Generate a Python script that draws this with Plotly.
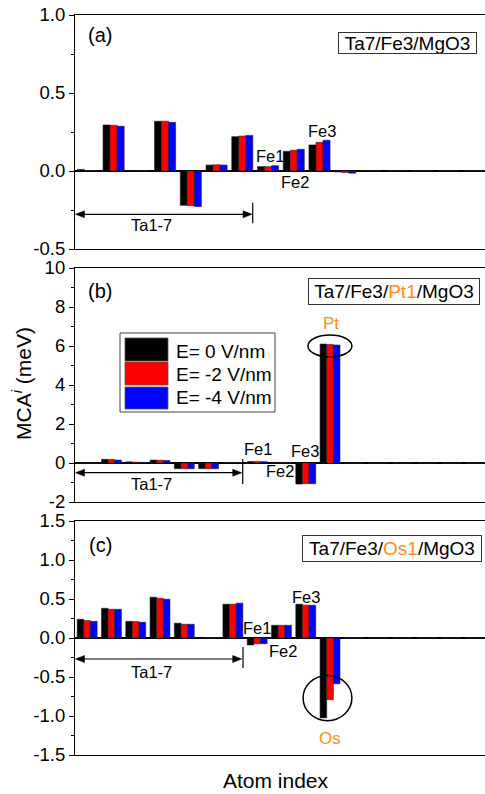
import plotly.graph_objects as go

# ---------------- data ----------------
series_names = ["E= 0 V/nm", "E= -2 V/nm", "E= -4 V/nm"]
series_colors = ["#000000", "#ff0000", "#0000ff"]

# (a) Ta7/Fe3/MgO3 : 16 atoms
atoms_a = list(range(1, 17))
a_e0 = [0.010, 0.295, 0.0, 0.319, -0.220, 0.038, 0.220, 0.028, 0.126, 0.167, -0.006, 0, 0, 0, 0, 0]
a_e2 = [0.002, 0.293, 0.0, 0.319, -0.222, 0.040, 0.224, 0.028, 0.133, 0.184, -0.010, 0, 0, 0, 0, 0]
a_e4 = [0.001, 0.287, 0.0, 0.312, -0.228, 0.038, 0.228, 0.034, 0.139, 0.197, -0.014, 0, 0, 0, 0, 0]

# (b) Ta7/Fe3/Pt1/MgO3 : 17 atoms
atoms_b = list(range(1, 18))
b_e0 = [0.0, 0.19, 0.06, 0.15, -0.29, -0.29, 0.02, 0.08, 0.03, -1.08, 6.10, 0, 0, 0, 0, 0, 0]
b_e2 = [0.0, 0.18, 0.04, 0.14, -0.29, -0.29, 0.02, 0.08, 0.03, -1.06, 6.08, 0, 0, 0, 0, 0, 0]
b_e4 = [0.0, 0.15, 0.03, 0.13, -0.29, -0.29, 0.02, 0.07, 0.03, -1.06, 6.05, 0, 0, 0, 0, 0, 0]

# (c) Ta7/Fe3/Os1/MgO3 : 17 atoms
atoms_c = list(range(1, 18))
c_e0 = [0.240, 0.381, 0.214, 0.523, 0.190, 0.008, 0.433, -0.090, 0.163, 0.433, -1.024, 0.005, 0, 0, 0, 0, 0]
c_e2 = [0.223, 0.368, 0.210, 0.510, 0.176, 0.004, 0.433, -0.073, 0.163, 0.420, -0.790, 0.003, 0, 0, 0, 0, 0]
c_e4 = [0.214, 0.368, 0.202, 0.497, 0.176, 0.003, 0.446, -0.073, 0.163, 0.420, -0.587, 0.002, 0, 0, 0, 0, 0]

yt_a_vals = [-0.5, 0.0, 0.5, 1.0]
yt_a_text = ["-0.5", "0.0", "0.5", "1.0"]
yt_b_vals = [-2, 0, 2, 4, 6, 8, 10]
yt_b_text = ["-2", "0", "2", "4", "6", "8", "10"]
yt_c_vals = [-1.5, -1.0, -0.5, 0.0, 0.5, 1.0, 1.5]
yt_c_text = ["-1.5", "-1.0", "-0.5", "0.0", "0.5", "1.0", "1.5"]

# ---------------- layout helpers ----------------
W, H = 485, 794
L, R, T, B = 75, 0, 15, 39
PW = W - L - R
PH = H - T - B
FONT = "Liberation Sans, Arial, sans-serif"
ORANGE = "#ff8c1a"


def px(xp):
    return (xp - L) / PW


def py(yp):
    return (H - B - yp) / PH


fig = go.Figure()

panels = [
    ("x", "y", atoms_a, [a_e0, a_e2, a_e4]),
    ("x2", "y2", atoms_b, [b_e0, b_e2, b_e4]),
    ("x3", "y3", atoms_c, [c_e0, c_e2, c_e4]),
]
for xa, ya, atoms, vals in panels:
    for name, col, v in zip(series_names, series_colors, vals):
        fig.add_trace(go.Bar(
            x=atoms, y=v, name=name, xaxis=xa, yaxis=ya,
            marker=dict(color=col, line=dict(color="#222222", width=0.6)),
            showlegend=False,
        ))

xcommon = dict(showticklabels=False, ticks="", showline=True, mirror=True,
               linecolor="black", linewidth=1.2, showgrid=False, zeroline=False)
ycommon = dict(ticks="outside", ticklen=5, tickwidth=1.2, tickcolor="black",
               showline=True, mirror=False, linecolor="black", linewidth=1.2,
               showgrid=False, zeroline=True, zerolinecolor="black", zerolinewidth=2,
               tickfont=dict(family=FONT, size=18.5, color="black"))

fig.update_layout(
    width=W, height=H,
    margin=dict(l=L, r=R, t=T, b=B),
    paper_bgcolor="white", plot_bgcolor="white",
    barmode="group", bargap=0.18, bargroupgap=0.0,
    font=dict(family=FONT, color="black"),
    xaxis=dict(domain=[0, 1], range=[0.5, 16.43], anchor="y", **xcommon),
    xaxis2=dict(domain=[0, 1], range=[0.5, 17.38], anchor="y2", **xcommon),
    xaxis3=dict(domain=[0, 1], range=[0.5, 17.38], anchor="y3", **xcommon),
    yaxis=dict(domain=[py(249), py(15)], range=[-0.5, 1.0], anchor="x",
               tickvals=yt_a_vals, ticktext=yt_a_text,
               minor=dict(ticks="outside", ticklen=3, tickwidth=1, tickcolor="black", dtick=0.25, tick0=0),
               **ycommon),
    yaxis2=dict(domain=[py(502), py(268)], range=[-2, 10], anchor="x2",
                tickvals=yt_b_vals, ticktext=yt_b_text,
                minor=dict(ticks="outside", ticklen=3, tickwidth=1, tickcolor="black", dtick=1, tick0=0),
                **ycommon),
    yaxis3=dict(domain=[py(755), py(521)], range=[-1.5, 1.5], anchor="x3",
                tickvals=yt_c_vals, ticktext=yt_c_text,
                minor=dict(ticks="outside", ticklen=3, tickwidth=1, tickcolor="black", dtick=0.25, tick0=0),
                **ycommon),
)

ann = []
shapes = []


def label(x, y, text, xref, yref, size=16.5, color="black", **kw):
    d = dict(x=x, y=y, xref=xref, yref=yref, text=text, showarrow=False,
             xanchor="center", yanchor="middle",
             font=dict(family=FONT, size=size, color=color))
    d.update(kw)
    ann.append(d)


# panel letters
label(px(100), py(35), "(a)", "paper", "paper", size=20)
label(px(100), py(291), "(b)", "paper", "paper", size=20)
label(px(100), py(545), "(c)", "paper", "paper", size=20)


# boxed system names
def boxed(xc, yc, w, h, text):
    ann.append(dict(x=px(xc), y=py(yc), xref="paper", yref="paper", text=text,
                    xanchor="center", yanchor="middle",
                    showarrow=False, font=dict(family=FONT, size=19, color="black"),
                    bordercolor="#333333", borderwidth=1, borderpad=0,
                    width=w, height=h, bgcolor="white"))


boxed(407.5, 42.5, 137, 20, "Ta7/Fe3/MgO3")
boxed(394, 291, 170, 25, "Ta7/Fe3/<span style='color:%s'>Pt1</span>/MgO3" % ORANGE)
boxed(392, 548.5, 178, 25, "Ta7/Fe3/<span style='color:%s'>Os1</span>/MgO3" % ORANGE)

# Fe labels
label(8.09, 0.096, "Fe1", "x", "y")
label(9.06, -0.07, "Fe2", "x", "y")
label(10.1, 0.256, "Fe3", "x", "y")
label(8.04, 0.72, "Fe1", "x2", "y2")
label(8.94, -0.41, "Fe2", "x2", "y2")
label(9.97, 0.62, "Fe3", "x2", "y2")
label(8.0, 0.125, "Fe1", "x3", "y3")
label(9.07, -0.17, "Fe2", "x3", "y3")
label(10.0, 0.52, "Fe3", "x3", "y3")
label(11.04, 7.13, "Pt", "x2", "y2", size=17, color=ORANGE)
label(11.0, -1.29, "Os", "x3", "y3", size=17, color=ORANGE)

# Ta1-7 double arrows (pixel positions -> paper), end bars and labels
AH_L, AH_W = 9, 3.5
for yline, xend, xbar, yb0, yb1, xl, yl, xr, yr in [
    (214.3, 252.0, 252.7, 202.7, 223.3, 3.48, -0.346, "x", "y"),
    (472.7, 241.7, 242.7, 459.0, 484.0, 3.63, -1.08, "x2", "y2"),
    (659.0, 241.7, 243.0, 647.0, 668.0, 3.63, -0.44, "x3", "y3"),
]:
    xs = 75.5
    shapes.append(dict(type="line", xref="paper", yref="paper",
                       x0=px(xs + 4), x1=px(xend - 4), y0=py(yline), y1=py(yline),
                       line=dict(color="black", width=1.2)))
    # left arrowhead
    shapes.append(dict(type="path", xref="paper", yref="paper",
                       path="M %f %f L %f %f L %f %f Z" % (
                           px(xs), py(yline), px(xs + AH_L), py(yline - AH_W),
                           px(xs + AH_L), py(yline + AH_W)),
                       fillcolor="black", line=dict(color="black", width=0.5)))
    # right arrowhead
    shapes.append(dict(type="path", xref="paper", yref="paper",
                       path="M %f %f L %f %f L %f %f Z" % (
                           px(xend), py(yline), px(xend - AH_L), py(yline - AH_W),
                           px(xend - AH_L), py(yline + AH_W)),
                       fillcolor="black", line=dict(color="black", width=0.5)))
    shapes.append(dict(type="line", xref="paper", yref="paper",
                       x0=px(xbar), x1=px(xbar), y0=py(yb0), y1=py(yb1),
                       line=dict(color="black", width=1.2)))
    label(xl, yl, "Ta1-7", xr, yr)

# circles around Pt and Os
shapes.append(dict(type="circle", xref="x2", yref="y2", x0=10.09, x1=11.9, y0=5.44, y1=6.56,
                   line=dict(color="black", width=1.5)))
shapes.append(dict(type="circle", xref="x3", yref="y3", x0=9.89, x1=11.9, y0=-1.06, y1=-0.48,
                   line=dict(color="black", width=1.5)))

# custom legend in panel (b)
shapes.append(dict(type="rect", xref="paper", yref="paper", x0=px(120), x1=px(275),
                   y0=py(412), y1=py(333), line=dict(color="#444444", width=1), fillcolor="white"))
for (y0p, y1p, yc), name, col in zip([(338, 361, 351), (362, 385, 374), (387, 409, 398)],
                                     series_names, series_colors):
    shapes.append(dict(type="rect", xref="paper", yref="paper", x0=px(125), x1=px(168),
                       y0=py(y1p), y1=py(y0p), line=dict(color="#555555", width=0.8), fillcolor=col))
    ann.append(dict(x=px(174), y=py(yc), xref="paper", yref="paper", text=name, showarrow=False,
                    xanchor="left", yanchor="middle", font=dict(family=FONT, size=19, color="black")))

# axis titles
ann.append(dict(x=px(22), y=py(384), xref="paper", yref="paper",
                text="MCA<sup><i>i</i></sup> (meV)", showarrow=False, textangle=-90,
                xanchor="center", yanchor="middle",
                font=dict(family=FONT, size=21, color="black")))
ann.append(dict(x=px(276), y=py(780), xref="paper", yref="paper",
                text="Atom index", showarrow=False, xanchor="center", yanchor="middle",
                font=dict(family=FONT, size=21, color="black")))

fig.update_layout(annotations=ann, shapes=shapes)

fig.write_html("out.html")
